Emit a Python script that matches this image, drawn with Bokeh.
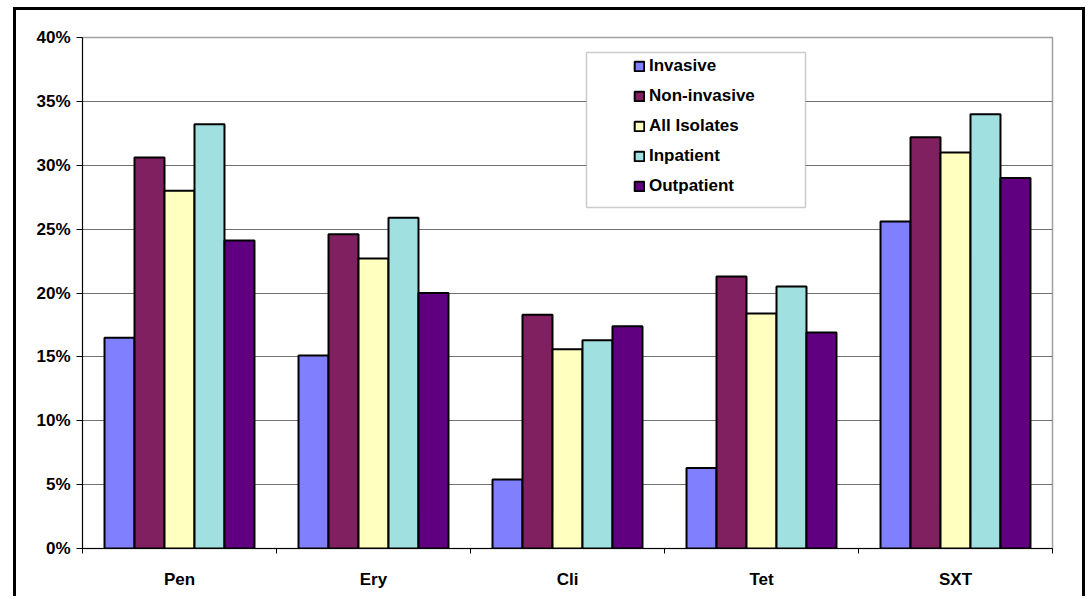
import numpy as np
from bokeh.plotting import figure
from bokeh.models import (Range1d, FixedTicker, NumeralTickFormatter, Legend,
                          LegendItem, BoxAnnotation, ColumnDataSource)
from bokeh.embed import file_html
from bokeh.resources import INLINE

categories = ["Pen", "Ery", "Cli", "Tet", "SXT"]
series_names = ["Invasive", "Non-invasive", "All Isolates", "Inpatient", "Outpatient"]
invasive = [16.5, 15.1, 5.4, 6.3, 25.6]
non_invasive = [30.6, 24.6, 18.3, 21.3, 32.2]
all_isolates = [28.0, 22.7, 15.6, 18.4, 31.0]
inpatient = [33.2, 25.9, 16.3, 20.5, 34.0]
outpatient = [24.1, 20.0, 17.4, 16.9, 29.0]
y_ticks = [0, 5, 10, 15, 20, 25, 30, 35, 40]

series_values = [invasive, non_invasive, all_isolates, inpatient, outpatient]
colors = ["#8080FF", "#802060", "#FFFFC0", "#A0E0E0", "#600080"]

FONT = "Liberation Sans"
FS = "17px"

p = figure(width=1072, height=589, output_backend="svg", toolbar_location=None,
           x_range=Range1d(0, len(categories)), y_range=Range1d(0, 0.40),
           min_border_left=66, min_border_right=36, min_border_top=27,
           min_border_bottom=51)
p.margin = (7, 0, 0, 13)
p.styles = {"border-left": "3px solid black", "border-top": "3px solid black",
            "border-right": "3px solid black"}
p.background_fill_color = "white"
p.border_fill_color = "white"
p.outline_line_color = "#a0a0a0"
p.outline_line_width = 1.5

bar_w = 0.1546
renderers = []
idx = np.arange(len(categories))
for k, (name, vals, col) in enumerate(zip(series_names, series_values, colors)):
    src = ColumnDataSource(dict(x=idx + 0.5 + (k - 2) * bar_w,
                                top=np.array(vals) / 100.0))
    r = p.vbar(x="x", top="top", bottom=0, width=bar_w, source=src,
               fill_color=col, line_color="black", line_width=2)
    renderers.append((name, r))

# axes
p.yaxis.ticker = FixedTicker(ticks=[t / 100 for t in y_ticks])
p.yaxis.formatter = NumeralTickFormatter(format="0%")
p.yaxis.major_tick_out = 6
p.yaxis.major_tick_in = 0
p.yaxis.minor_tick_line_color = None
p.yaxis.major_label_standoff = 6
p.yaxis.axis_line_color = "black"
p.yaxis.major_tick_line_color = "black"

p.xaxis.ticker = FixedTicker(ticks=[i + 0.5 for i in range(len(categories))],
                             minor_ticks=list(range(len(categories) + 1)))
p.xaxis.major_label_overrides = {i + 0.5: c for i, c in enumerate(categories)}
p.xaxis.major_tick_out = 0
p.xaxis.major_tick_in = 0
p.xaxis.minor_tick_out = 5
p.xaxis.minor_tick_in = 0
p.xaxis.minor_tick_line_color = "black"
p.xaxis.major_label_standoff = 16
p.xaxis.axis_line_color = "black"

for ax in (p.xaxis, p.yaxis):
    ax.major_label_text_font = FONT
    ax.major_label_text_font_style = "bold"
    ax.major_label_text_font_size = FS
    ax.major_label_text_color = "black"

p.xgrid.grid_line_color = None
p.ygrid.ticker = FixedTicker(ticks=[t / 100 for t in y_ticks])
p.ygrid.grid_line_color = "#707070"
p.ygrid.grid_line_width = 1

# legend box
box = BoxAnnotation(left=567, right=786, top=39, bottom=194,
                    left_units="canvas", right_units="canvas",
                    top_units="canvas", bottom_units="canvas",
                    fill_color="white", fill_alpha=1.0,
                    line_color="#555555", line_width=1.5)
p.add_layout(box)

legend = Legend(items=[LegendItem(label=n, renderers=[r]) for n, r in renderers],
                location=(545, 346), orientation="vertical")
legend.border_line_alpha = 0
legend.background_fill_alpha = 0
legend.padding = 6
legend.margin = 0
legend.spacing = 10
legend.label_height = 20
legend.glyph_height = 12
legend.glyph_width = 12
legend.label_standoff = 4
legend.label_text_font = FONT
legend.label_text_font_style = "bold"
legend.label_text_font_size = FS
legend.label_text_color = "black"
p.add_layout(legend)

open("out.html", "w").write(file_html(p, INLINE))
